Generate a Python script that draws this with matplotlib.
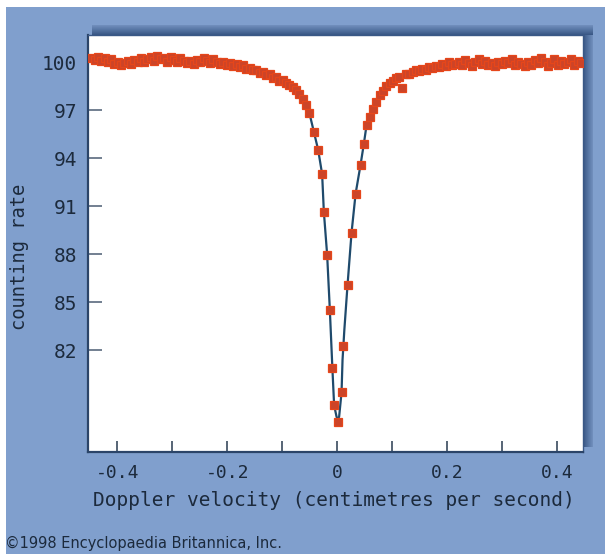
import matplotlib
matplotlib.use("Agg")
import matplotlib.pyplot as plt
from matplotlib.patches import Rectangle
import numpy as np

# ---------------- data ----------------
# measured points: Doppler velocity (cm/s) and counting rate
velocity = [
    -0.447, -0.441, -0.435, -0.429, -0.423, -0.417, -0.411, -0.405, -0.399, -0.393,
    -0.387, -0.381, -0.375, -0.369, -0.363, -0.357, -0.351, -0.345, -0.339, -0.333,
    -0.327, -0.321, -0.315, -0.309, -0.303, -0.297, -0.291, -0.285, -0.279, -0.273,
    -0.267, -0.261, -0.255, -0.249, -0.243, -0.237, -0.231, -0.225, -0.219, -0.213,
    -0.207, -0.201, -0.195, -0.189, -0.183, -0.177, -0.171, -0.165, -0.159, -0.153,
    -0.147, -0.141, -0.135, -0.129, -0.123, -0.117, -0.111, -0.105, -0.099, -0.093,
    -0.087, -0.081, -0.075, -0.069, -0.063, -0.057, -0.051,
    -0.0424, -0.0345, -0.0273, -0.0242, -0.0182, -0.0133, -0.0102, -0.0055,
    0.0007, 0.0080, 0.0098, 0.0189, 0.0262, 0.0335, 0.0425, 0.0485,
    0.0535, 0.059, 0.0655, 0.071, 0.0776, 0.083, 0.089, 0.0958, 0.101, 0.107,
    0.113, 0.117, 0.125, 0.131, 0.137, 0.143, 0.149, 0.155, 0.161, 0.167,
    0.173, 0.179, 0.185, 0.191, 0.197, 0.203, 0.209,
    0.215, 0.221, 0.227, 0.233, 0.239, 0.245, 0.251, 0.257, 0.263, 0.269,
    0.275, 0.281, 0.287, 0.293, 0.299, 0.305, 0.311, 0.317, 0.323, 0.329,
    0.335, 0.341, 0.347, 0.353, 0.359, 0.365, 0.371, 0.377, 0.383, 0.389,
    0.395, 0.401, 0.407, 0.413, 0.419, 0.425, 0.431, 0.437, 0.443,
]
counting_rate = [
    100.30, 100.15, 100.35, 100.10, 100.25, 100.05, 100.20, 99.90, 100.05, 99.85,
    99.95, 100.10, 99.90, 100.15, 100.00, 100.25, 100.05, 100.20, 100.35, 100.10,
    100.40, 100.20, 100.30, 100.05, 100.35, 100.15, 100.00, 100.25, 100.10, 99.95,
    100.10, 99.90, 100.15, 100.00, 100.25, 100.10, 99.95, 100.20, 100.00, 99.90,
    100.05, 99.85, 99.95, 99.80, 99.90, 99.70, 99.85, 99.60, 99.65, 99.50,
    99.55, 99.35, 99.40, 99.20, 99.25, 99.05, 99.10, 98.85, 98.90, 98.70,
    98.60, 98.45, 98.30, 98.00, 97.70, 97.30, 96.80,
    95.66, 94.52, 93.00, 90.66, 87.96, 84.52, 80.88, 78.54,
    77.50, 79.35, 82.27, 86.08, 89.35, 91.77, 93.58, 94.89,
    96.10, 96.60, 97.10, 97.50, 97.95, 98.20, 98.50, 98.70, 98.85, 99.00,
    99.10, 98.37, 99.25, 99.30, 99.40, 99.50, 99.45, 99.60, 99.55, 99.70,
    99.65, 99.80, 99.70, 99.90, 99.80, 100.00, 99.85,
    99.90, 100.05, 99.85, 100.15, 99.95, 99.80, 100.00, 100.20, 99.90, 100.10,
    99.85, 99.95, 99.75, 100.00, 99.90, 100.10, 99.95, 100.20, 99.85, 100.05,
    99.90, 99.75, 100.00, 99.85, 100.15, 99.95, 100.25, 100.00, 99.80, 99.95,
    100.20, 99.85, 100.10, 99.90, 100.00, 100.20, 99.85, 100.10, 99.95,
]

# fitted curve
fit_velocity = [
    -0.453, -0.30, -0.22, -0.195, -0.171, -0.1405, -0.110, -0.086, -0.0678, -0.0556,
    -0.0496, -0.0424, -0.0345, -0.0273, -0.0242, -0.0182, -0.0133, -0.0087, -0.0055, -0.0011,
    0.0013, 0.0036, 0.0080, 0.0098, 0.0131, 0.0189, 0.0262, 0.0335, 0.0425, 0.0485,
    0.0535, 0.0655, 0.0776, 0.0958, 0.1195, 0.1444, 0.174, 0.2049, 0.30, 0.447,
]
fit_rate = [
    100.12, 100.10, 100.05, 100.00, 99.83, 99.41, 99.00, 98.58, 97.96, 97.14,
    96.70, 95.66, 94.52, 93.00, 90.66, 87.96, 84.52, 80.89, 78.54, 77.83,
    77.64, 77.83, 79.35, 81.39, 83.27, 86.08, 89.35, 91.77, 93.58, 94.89,
    96.08, 97.12, 97.96, 98.69, 99.20, 99.52, 99.73, 99.94, 100.00, 100.02,
]

x_ticks = [-0.4, -0.3, -0.2, -0.1, 0.0, 0.1, 0.2, 0.3, 0.4]
x_tick_labels = ["-0.4", "", "-0.2", "", "0", "", "0.2", "", "0.4"]
y_ticks = [82, 85, 88, 91, 94, 97, 100]
y_tick_labels = ["82", "85", "88", "91", "94", "97", "100"]

x_label = "Doppler velocity (centimetres per second)"
y_label = "counting rate"
credit = "\u00a91998 Encyclopaedia Britannica, Inc."

# ---------------- styling ----------------
plt.rcParams["font.family"] = ["DejaVu Sans Mono", "DejaVu Sans"]
TEXT = "#1c2a3c"
BG = "#809fcd"

W, H = 607, 554
fig = plt.figure(figsize=(W / 100, H / 100), dpi=100)
fig.patch.set_facecolor(BG)


def fx(px):
    return px / W


def fy(py):
    return 1 - py / H


def frect(x0, y0, x1, y1, color, z=0):
    # rectangle in pixel coords (y downward)
    fig.patches.append(Rectangle((fx(x0), fy(y1)), (x1 - x0) / W, (y1 - y0) / H,
                                 transform=fig.transFigure, facecolor=color,
                                 edgecolor="none", zorder=z))


# white margins of the original picture
frect(0, 0, W, 7, "white")
frect(0, 0, 6, H, "white")
frect(605, 0, W, H, "white")

# bevel / drop shadow around top and right of the plot area
light = np.array([0x80, 0x9f, 0xcd]) / 255
dark = np.array([0x3a, 0x58, 0x86]) / 255
n = 10
for i in range(n):
    t = 0.25 + 0.75 * i / (n - 1)
    c = light * (1 - t) + dark * t
    frect(92, 25 + i, 593, 26 + i, tuple(c), z=1)
for i in range(n):
    t = 1.0 - 0.75 * i / (n - 1)
    c = light * (1 - t) + dark * t
    frect(583 + i, 35, 584 + i, 447, tuple(c), z=1)

ax = fig.add_axes([fx(88), fy(452), (583 - 88) / W, (452 - 35) / H])
ax.set_facecolor("white")
ax.set_zorder(2)

ax.plot(fit_velocity, fit_rate, color="#1f4a6c", lw=1.6, zorder=2,
        solid_joinstyle="round")
ax.plot(velocity, counting_rate, linestyle="none", marker="s", markersize=5.4,
        markerfacecolor="#cc4428", markeredgecolor="#e6461a", markeredgewidth=0.9,
        zorder=3)

ax.set_xlim(-0.453, 0.447)
ax.set_ylim(75.62, 101.71)

ax.set_xticks(x_ticks)
ax.set_xticklabels(x_tick_labels)
ax.set_yticks(y_ticks)
ax.set_yticklabels(y_tick_labels)

ax.tick_params(axis="x", direction="in", length=8, width=1.2, color="#3a4a5e",
               pad=9, labelsize=13, labelcolor=TEXT)
ax.tick_params(axis="y", direction="in", length=10, width=1.2, color="#5a6a7e",
               pad=8, labelsize=14, labelcolor=TEXT)

for side in ("left", "bottom"):
    ax.spines[side].set_color("#2b4468")
    ax.spines[side].set_linewidth(1.6)
for side in ("top", "right"):
    ax.spines[side].set_color("#3a5886")
    ax.spines[side].set_linewidth(1.0)

fig.text(fx(334), fy(500), x_label, ha="center", va="center", fontsize=14,
         color=TEXT)
fig.text(fx(20), fy(257), y_label, ha="center", va="center", rotation=90,
         fontsize=13.5, color=TEXT)
fig.text(fx(5), fy(543), credit, ha="left", va="center", fontsize=10.5,
         color=TEXT, family=["DejaVu Sans"])

fig.savefig("out.png", dpi=100, facecolor=fig.get_facecolor())
